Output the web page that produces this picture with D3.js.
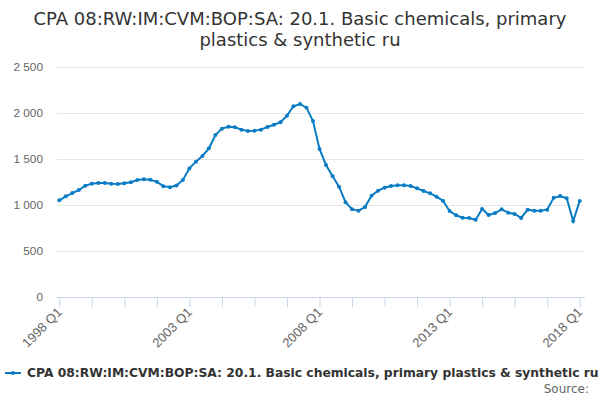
<!DOCTYPE html>
<html>
<head>
<meta charset="utf-8">
<script src="https://cdn.jsdelivr.net/npm/d3@7"></script>
<style>
  body { margin: 0; background: #fff; }
  svg { font-family: "DejaVu Sans", sans-serif; display: block; }
</style>
</head>
<body>
<script>
// quarterly values, 1998 Q1 .. 2018 Q1
var years = d3.range(1998, 2019);
var quarters = [];
years.forEach(function (y) {
  [1, 2, 3, 4].forEach(function (q) {
    if (y < 2018 || q === 1) quarters.push(y + " Q" + q);
  });
});

var values = [
  1051, 1094, 1130, 1163, 1210, 1232, 1239, 1239, 1232, 1228,
  1236, 1247, 1272, 1279, 1275, 1252, 1205, 1193, 1212, 1272,
  1398, 1471, 1533, 1616, 1761, 1830, 1851, 1845, 1819, 1804,
  1806, 1819, 1848, 1873, 1899, 1971, 2073, 2098, 2058, 1913,
  1609, 1435, 1315, 1199, 1031, 955, 938, 978, 1101, 1156,
  1188, 1207, 1214, 1214, 1207, 1181, 1152, 1127, 1090, 1044,
  935, 888, 862, 859, 840, 957, 891, 913, 953, 917,
  902, 859, 949, 938, 938, 949, 1079, 1098, 1073, 826,
  1044
];

var yTicks = [0, 500, 1000, 1500, 2000, 2500];
var seriesName = "CPA 08:RW:IM:CVM:BOP:SA: 20.1. Basic chemicals, primary plastics & synthetic ru";
var titleLines = ["CPA 08:RW:IM:CVM:BOP:SA: 20.1. Basic chemicals, primary", "plastics & synthetic ru"];

var W = 600, H = 400;
var color = "#0a7cc4";

var svg = d3.select("body").append("svg")
    .attr("width", W)
    .attr("height", H);

// scales
var x = d3.scaleLinear()
    .domain([0, quarters.length - 1])
    .range([59.3, 579.7]);
var y = d3.scaleLinear()
    .domain([0, 2500])
    .range([297, 67]);

var fmt = function (d) { return d3.format(",")(d).replace(/,/g, " "); };

// title
svg.append("text")
    .attr("x", W / 2)
    .attr("y", 25)
    .attr("text-anchor", "middle")
    .style("font-size", "18px")
    .style("fill", "#333333")
    .selectAll("tspan")
    .data(titleLines)
    .enter().append("tspan")
    .attr("x", W / 2)
    .attr("dy", (d, i) => i ? 21 : 0)
    .text(d => d);

// grid + y labels
var yAxis = d3.axisLeft(y)
    .tickValues(yTicks)
    .tickSize(-528)
    .tickPadding(14)
    .tickFormat(fmt);
svg.append("g")
    .attr("transform", "translate(57,0)")
    .call(yAxis)
    .call(g => g.select(".domain").remove())
    .call(g => g.selectAll(".tick line").attr("stroke", "#e6e6e6"))
    .call(g => g.selectAll(".tick text")
        .attr("fill", "#666666")
        .style("font-size", "11.8px")
        .attr("dy", "0.32em"));

// x axis
var xAxis = d3.axisBottom(x)
    .tickValues(d3.range(0, quarters.length, 5))
    .tickSize(10)
    .tickFormat(i => i % 20 === 0 ? quarters[i] : "");
svg.append("g")
    .attr("transform", "translate(0,297)")
    .call(xAxis)
    .call(g => g.select(".domain").attr("stroke", "#ccd6eb").attr("d", "M57,0.5H585"))
    .call(g => g.selectAll(".tick line").attr("stroke", "#ccd6eb"))
    .call(g => g.selectAll(".tick text")
        .attr("fill", "#666666")
        .style("font-size", "13px")
        .attr("text-anchor", "end")
        .attr("transform", "translate(3,16) rotate(-45)")
        .attr("dy", 0)
        .attr("y", 0)
        .attr("x", 0));

// line
var line = d3.line()
    .x((d, i) => x(i))
    .y(d => y(d));
svg.append("path")
    .datum(values)
    .attr("fill", "none")
    .attr("stroke", color)
    .attr("stroke-width", 2)
    .attr("d", line);

svg.append("g")
    .selectAll("circle")
    .data(values)
    .enter().append("circle")
    .attr("cx", (d, i) => x(i))
    .attr("cy", d => y(d))
    .attr("r", 2)
    .attr("fill", color);

// legend
var leg = svg.append("g").attr("transform", "translate(0,373)");
leg.append("line")
    .attr("x1", 5).attr("x2", 21)
    .attr("stroke", color).attr("stroke-width", 2);
leg.append("circle")
    .attr("cx", 13).attr("r", 2).attr("fill", color);
leg.append("text")
    .attr("x", 27)
    .attr("dy", "0.35em")
    .style("font-size", "12.3px")
    .style("font-weight", "bold")
    .style("fill", "#333333")
    .text(seriesName);

svg.append("text")
    .attr("x", 589)
    .attr("y", 393)
    .attr("text-anchor", "end")
    .style("font-size", "12px")
    .style("fill", "#666666")
    .text("Source:");
</script>
</body>
</html>
